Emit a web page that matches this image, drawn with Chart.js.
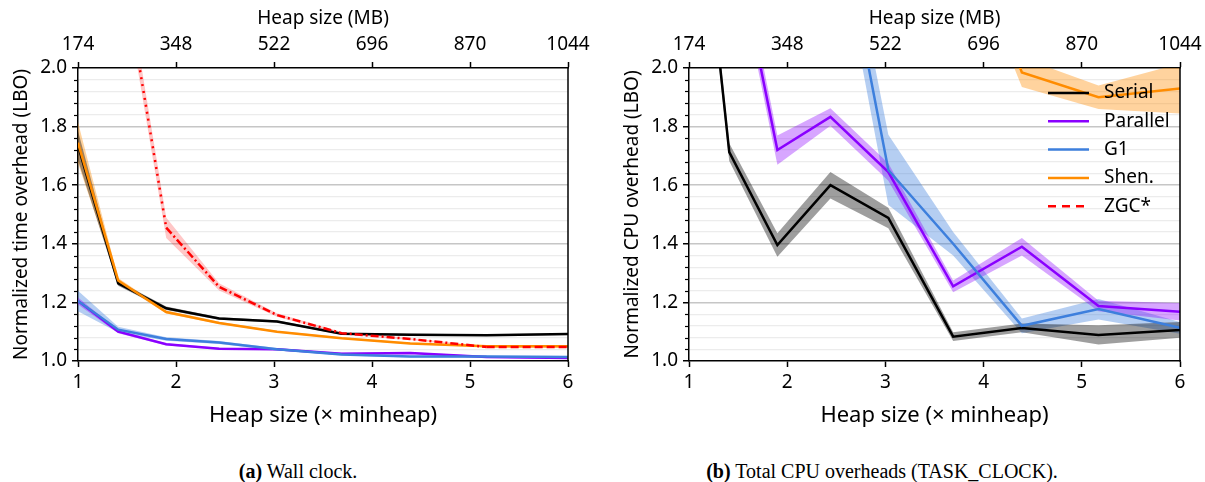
<!DOCTYPE html>
<html>
<head>
<meta charset="utf-8">
<script src="https://cdn.jsdelivr.net/npm/chart.js@4/dist/chart.umd.min.js"></script>
<style>
    body { margin: 0; background: #fff; }
    #figura { position: relative; width: 1205px; height: 482px; overflow: hidden; }
    #figura canvas { position: absolute; top: 0; }
    .legenda {
        position: absolute; top: 460px; white-space: nowrap;
        font-family: "Liberation Serif", "DejaVu Serif", serif; font-size: 20px; color: #000;
        transform: translateX(-50%);
    }
</style>
</head>
<body>
<div id="figura">
    <canvas id="grafico-wall" width="600" height="440" style="left:0"></canvas>
    <canvas id="grafico-cpu" width="601" height="440" style="left:611px"></canvas>
    <div class="legenda" style="left:298px"><b>(a)</b> Wall clock.</div>
    <div class="legenda" style="left:882px"><b>(b)</b> Total CPU overheads (TASK_CLOCK).</div>
</div>
<script>
// Dados: fatores de heap (x minheap) e tamanho mínimo em MB
const fatores = [1, 1.41, 1.9, 2.44, 3.03, 3.69, 4.39, 5.17, 6];
const minHeapMB = 174;
const coletores = ['Serial', 'Parallel', 'G1', 'Shen.', 'ZGC*'];

// Wall clock (LBO) e intervalos de confiança
const wallSerial = [1.735, 1.265, 1.18, 1.145, 1.135, 1.093, 1.09, 1.088, 1.092];
const wallSerialIC = [0.05, 0.008, 0.006, 0.004, 0.004, 0.003, 0.003, 0.003, 0.003];
const wallParallel = [1.205, 1.1, 1.057, 1.042, 1.04, 1.025, 1.027, 1.014, 1.01];
const wallParallelIC = [0.012, 0.005, 0.004, 0.003, 0.003, 0.003, 0.003, 0.003, 0.003];
const wallG1 = [1.205, 1.107, 1.075, 1.063, 1.04, 1.022, 1.015, 1.015, 1.014];
const wallG1IC = [0.035, 0.01, 0.006, 0.005, 0.004, 0.003, 0.003, 0.003, 0.003];
const wallShen = [1.745, 1.275, 1.167, 1.13, 1.1, 1.078, 1.06, 1.05, 1.05];
const wallShenIC = [0.07, 0.008, 0.005, 0.004, 0.003, 0.003, 0.003, 0.003, 0.003];
const wallZgc = [null, 2.44, 1.455, 1.253, 1.157, 1.095, 1.075, 1.048, 1.048];
const wallZgcIC = [null, 0.05, 0.035, 0.012, 0.006, 0.004, 0.003, 0.003, 0.003];

// CPU total (TASK_CLOCK)
const cpuSerial = [3.0, 1.713, 1.396, 1.6, 1.488, 1.083, 1.113, 1.089, 1.106];
const cpuSerialIC = [0.05, 0.03, 0.04, 0.045, 0.035, 0.015, 0.015, 0.033, 0.027];
const cpuParallel = [3.3, 2.53, 1.72, 1.833, 1.645, 1.255, 1.39, 1.188, 1.168];
const cpuParallelIC = [0.05, 0.05, 0.05, 0.03, 0.03, 0.02, 0.03, 0.018, 0.03];
const cpuG1 = [4.0, 3.3, 2.9, 2.68, 1.652, 1.4, 1.12, 1.177, 1.113];
const cpuG1IC = [0.1, 0.1, 0.1, 0.1, 0.12, 0.04, 0.025, 0.035, 0.02];
const cpuShen = [6.0, 5.0, 4.5, 4.0, 3.5, 2.6, 1.985, 1.9, 1.93];
const cpuShenIC = [0.1, 0.1, 0.1, 0.1, 0.1, 0.08, 0.05, 0.04, 0.085];
const cpuZgc = [null, null, null, null, null, null, null, null, null]; // fora da escala
const cpuZgcIC = [null, null, null, null, null, null, null, null, null];

// Cores de linha e de faixa por coletor
const coresLinha = ['#000000', '#8a00ff', '#3d7fdd', '#ff8c00', '#ff0000'];
const coresFaixa = ['rgba(0,0,0,0.38)', 'rgba(140,0,255,0.35)', 'rgba(60,125,220,0.38)',
    'rgba(255,140,0,0.38)', 'rgba(255,0,0,0.22)'];

const fonteSans = '"Noto Sans", "Open Sans", sans-serif';
Chart.defaults.font.family = fonteSans;
Chart.defaults.color = '#000';

function ehMaior(v) {
    return Math.abs(v * 5 - Math.round(v * 5)) < 1e-6;
}

// Traço do ZGC muda ao longo da curva
function tracoZgc(ctx) {
    const x = ctx.p0.parsed.x;
    if (x < 1.8) return [2, 5];
    if (x < 5) return [8, 3, 2, 3];
    return [8, 4];
}

// Função para montar faixas + linhas
function montarDatasets(series, ics) {
    const datasets = [];
    series.forEach((valores, i) => {
        const ic = ics[i];
        const sup = fatores.map((x, j) => ({ x, y: valores[j] == null ? null : valores[j] + ic[j] }));
        const inf = fatores.map((x, j) => ({ x, y: valores[j] == null ? null : valores[j] - ic[j] }));
        datasets.push({ data: sup, borderWidth: 0, pointRadius: 0, fill: false, order: 10 });
        datasets.push({ data: inf, borderWidth: 0, pointRadius: 0, fill: '-1',
            backgroundColor: coresFaixa[i], order: 10 });
        datasets.push({
            label: coletores[i],
            data: fatores.map((x, j) => ({ x, y: valores[j] })),
            borderColor: coresLinha[i],
            borderWidth: 2.5,
            pointRadius: 0,
            fill: false,
            order: 4 - i,
            segment: i === 4 ? { borderDash: tracoZgc } : undefined
        });
    });
    return datasets;
}

// Eixos: inferior (x minheap), superior (MB) e vertical
function montarEixos(tituloY) {
    const tickX = { drawOnChartArea: false, tickLength: 6, tickColor: '#000', tickWidth: 1.5 };
    const borda = { color: '#000', width: 1.5 };
    return {
        x: {
            type: 'linear', position: 'bottom', min: 1, max: 6,
            ticks: { stepSize: 1, padding: 4, font: { size: 19 } },
            grid: tickX, border: borda,
            title: { display: true, text: 'Heap size (× minheap)', font: { size: 22 },
                padding: { top: 0, bottom: 11 } },
            afterFit: s => { s.height = 79; }
        },
        xTopo: {
            type: 'linear', position: 'top', min: 1, max: 6,
            ticks: { stepSize: 1, padding: 6, font: { size: 19 },
                callback: v => String(Math.round(v * minHeapMB)) },
            grid: tickX, border: borda,
            title: { display: true, text: 'Heap size (MB)', font: { size: 19 },
                padding: { top: 7, bottom: 0 } },
            afterFit: s => { s.height = 68; }
        },
        y: {
            min: 1, max: 2,
            ticks: { stepSize: 0.04, autoSkip: false, padding: 5, font: { size: 19 },
                callback: v => ehMaior(v) ? v.toFixed(1) : '' },
            grid: {
                color: c => {
                    const v = c.tick.value;
                    if (v <= 1.0001 || v >= 1.9999) return 'rgba(0,0,0,0)';
                    return ehMaior(v) ? '#c6c6c6' : '#ececec';
                },
                lineWidth: c => ehMaior(c.tick.value) ? 1.5 : 1.2,
                tickLength: 6,
                tickColor: c => ehMaior(c.tick.value) ? '#000' : 'rgba(0,0,0,0)',
                tickWidth: 1.5
            },
            border: borda,
            title: { display: true, text: tituloY, font: { size: 19 }, padding: { top: 10, bottom: 0 } },
            afterFit: s => { s.width = 78; }
        }
    };
}

// Borda direita e ticks menores do eixo y
const moldura = {
    id: 'moldura',
    afterDraw(chart) {
        const { ctx, chartArea: a, scales } = chart;
        ctx.save();
        ctx.strokeStyle = '#000';
        ctx.lineWidth = 1.5;
        ctx.beginPath();
        ctx.moveTo(a.right, a.top - 0.75);
        ctx.lineTo(a.right, a.bottom + 0.75);
        ctx.stroke();
        ctx.lineWidth = 1.2;
        scales.y.ticks.forEach(t => {
            if (ehMaior(t.value)) return;
            const py = Math.round(scales.y.getPixelForValue(t.value)) + 0.5;
            ctx.beginPath();
            ctx.moveTo(a.left - 4, py);
            ctx.lineTo(a.left, py);
            ctx.stroke();
        });
        ctx.restore();
    }
};

// Legenda dentro da área do gráfico (b)
const legendaInterna = {
    id: 'legendaInterna',
    afterDraw(chart) {
        const { ctx, chartArea: a } = chart;
        const linhas = chart.data.datasets.filter(d => d.label);
        ctx.save();
        ctx.font = '19px ' + fonteSans;
        ctx.textBaseline = 'middle';
        ctx.fillStyle = '#000';
        linhas.forEach((d, i) => {
            const y = a.top + 25 + i * 28.3;
            ctx.strokeStyle = d.borderColor;
            ctx.lineWidth = 2.5;
            ctx.setLineDash(d.segment ? [8, 6] : []);
            ctx.beginPath();
            ctx.moveTo(a.right - 132, y);
            ctx.lineTo(a.right - 91, y);
            ctx.stroke();
            ctx.fillText(d.label, a.right - 76, y);
        });
        ctx.restore();
    }
};

function criarGrafico(id, series, ics, tituloY, extras) {
    return new Chart(document.getElementById(id), {
        type: 'line',
        data: { datasets: montarDatasets(series, ics) },
        options: {
            responsive: false,
            animation: false,
            layout: { padding: { left: 0, right: 32, top: 0, bottom: 0 } },
            plugins: { legend: { display: false }, tooltip: { enabled: false } },
            scales: montarEixos(tituloY)
        },
        plugins: [moldura].concat(extras)
    });
}

criarGrafico('grafico-wall',
    [wallSerial, wallParallel, wallG1, wallShen, wallZgc],
    [wallSerialIC, wallParallelIC, wallG1IC, wallShenIC, wallZgcIC],
    'Normalized time overhead (LBO)', []);

criarGrafico('grafico-cpu',
    [cpuSerial, cpuParallel, cpuG1, cpuShen, cpuZgc],
    [cpuSerialIC, cpuParallelIC, cpuG1IC, cpuShenIC, cpuZgcIC],
    'Normalized CPU overhead (LBO)', [legendaInterna]);
</script>
</body>
</html>
